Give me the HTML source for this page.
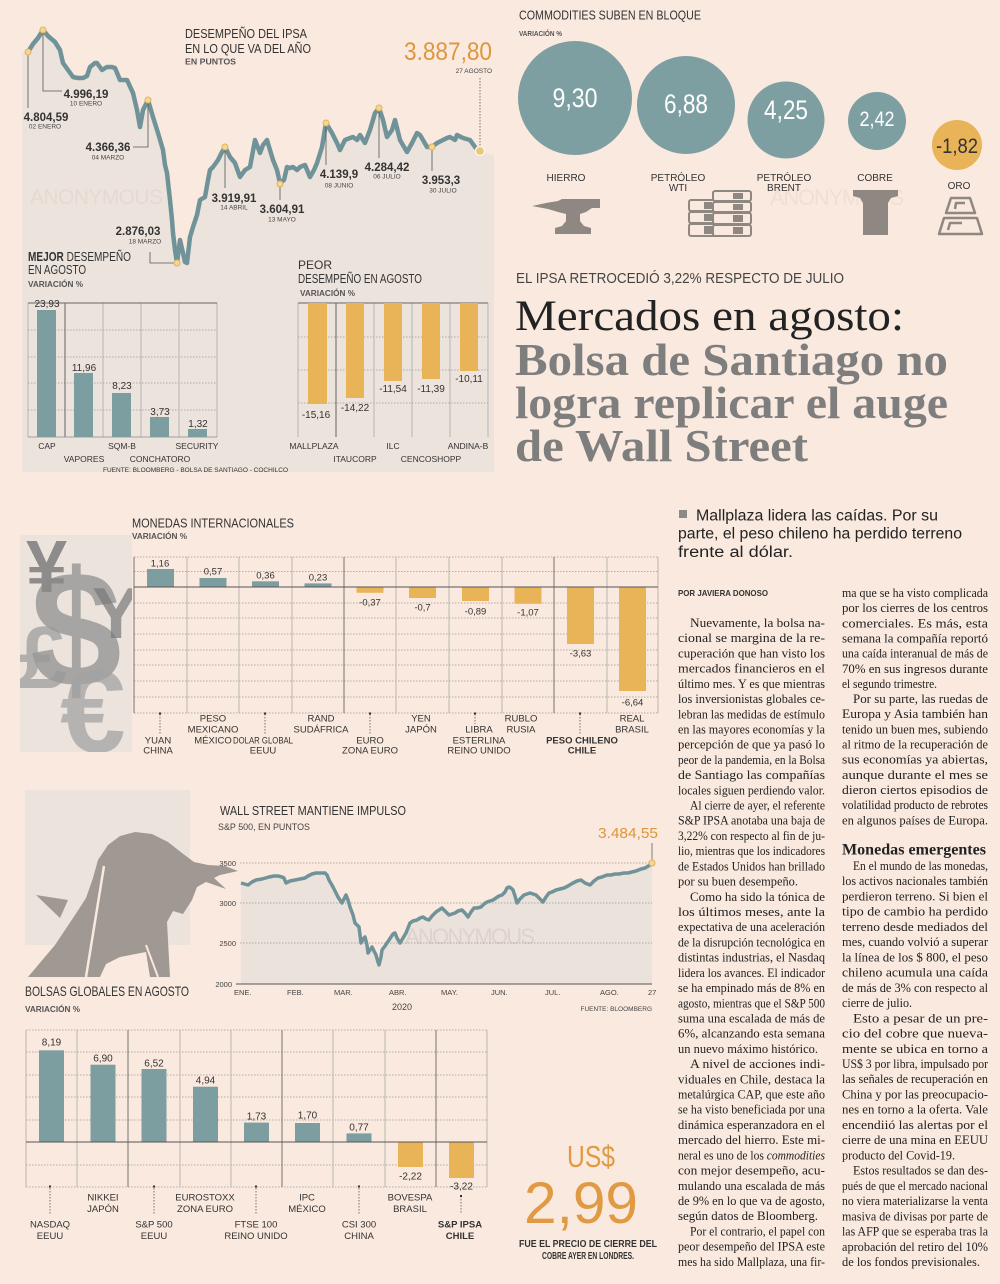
<!DOCTYPE html>
<html><head><meta charset="utf-8">
<style>
html,body{margin:0;padding:0;background:#fae9de;}
svg{display:block;}
.s{font-family:"Liberation Sans",sans-serif;}
.b{font-family:"Liberation Sans",sans-serif;font-weight:bold;}
.r{font-family:"Liberation Serif",serif;}
.t{font-family:"Liberation Serif",serif;font-size:12.5px;fill:#222;}
</style></head>
<body>
<svg width="1000" height="1284" viewBox="0 0 1000 1284" xmlns="http://www.w3.org/2000/svg">
<rect x="0" y="0" width="1000" height="1284" fill="#fae9de"/>

<!-- ============ IPSA CHART ============ -->
<polygon fill="#ece3dc" points="22,52 28,52 33,44 38,38 43,30 48,36 55,42 60,50 63,63 68,70 73,77 78,78 83,78 87,76 90,67 95,63 97,63 102,70 107,67 112,67 115,68 120,80 127,80 133,93 137,110 140,127 143,110 148,100 153,117 158,133 163,150 165,165 167,173 170,200 172,220 173,233 175,250 177,263 180,240 183,253 185,262 187,263 190,237 193,227 197,215 200,200 205,197 208,180 210,170 213,167 218,160 222,152 225,147 230,157 235,163 240,177 245,170 250,167 255,140 260,153 263,145 267,140 270,150 273,160 277,170 280,183 284,180 287,167 290,168 293,167 297,170 300,167 305,165 310,177 314,170 317,163 322,147 326,123 329,128 332,133 337,143 340,150 345,140 350,138 353,137 357,140 360,135 365,143 370,130 375,113 379,108 383,120 387,137 392,130 395,120 400,140 407,152 412,143 417,133 420,135 423,140 427,147 432,147 437,143 443,140 447,138 450,137 455,140 457,135 463,138 470,140 475,147 479,152 494,155 494,472 22,472"/>
<text x="30" y="204" class="s" font-size="21" fill="#e4dad3" textLength="133">ANONYMOUS</text>
<polyline fill="none" stroke="#6f9399" stroke-width="4.5" stroke-linejoin="round" stroke-linecap="round" points="28,52 33,44 38,38 43,30 48,36 55,42 60,50 63,63 68,70 73,77 78,78 83,78 87,76 90,67 95,63 97,63 102,70 107,67 112,67 115,68 120,80 127,80 133,93 137,110 140,127 143,110 148,100 153,117 158,133 163,150 165,165 167,173 170,200 172,220 173,233 175,250 177,263 180,240 183,253 185,262 187,263 190,237 193,227 197,215 200,200 205,197 208,180 210,170 213,167 218,160 222,152 225,147 230,157 235,163 240,177 245,170 250,167 255,140 260,153 263,145 267,140 270,150 273,160 277,170 280,183 284,180 287,167 290,168 293,167 297,170 300,167 305,165 310,177 314,170 317,163 322,147 326,123 329,128 332,133 337,143 340,150 345,140 350,138 353,137 357,140 360,135 365,143 370,130 375,113 379,108 383,120 387,137 392,130 395,120 400,140 407,152 412,143 417,133 420,135 423,140 427,147 432,147 437,143 443,140 447,138 450,137 455,140 457,135 463,138 470,140 475,147 479,152"/>
<g stroke="#555" stroke-width="0.8" fill="none">
<polyline points="28,55 28,108"/>
<polyline points="43,33 43,91 62,91"/>
<polyline points="148,103 148,147 133,147"/>
<polyline points="175,263 150,263 150,252"/>
<polyline points="225,150 225,188"/>
<polyline points="280,187 280,200"/>
<polyline points="326,126 326,165"/>
<polyline points="379,111 379,158"/>
<polyline points="432,150 432,171"/>
<polyline points="480,78 480,146" stroke-dasharray="1.5,1.5"/>
</g>
<g fill="#f2d795" stroke="#e2b25a" stroke-width="1">
<circle cx="28" cy="52" r="3"/><circle cx="43" cy="30" r="3"/><circle cx="148" cy="100" r="3"/>
<circle cx="177" cy="263" r="3"/><circle cx="225" cy="147" r="3"/><circle cx="280" cy="184" r="3"/>
<circle cx="326" cy="123" r="3"/><circle cx="379" cy="108" r="3"/><circle cx="432" cy="147" r="3"/>
</g>
<circle cx="480" cy="151" r="4.5" fill="#e8c77a" stroke="#fff3e0" stroke-width="1.5"/>
<g class="b" font-size="11.5" fill="#333" text-anchor="middle">
<text x="46" y="121">4.804,59</text>
<text x="86" y="98">4.996,19</text>
<text x="108" y="151">4.366,36</text>
<text x="138" y="235">2.876,03</text>
<text x="234" y="202">3.919,91</text>
<text x="282" y="213">3.604,91</text>
<text x="339" y="178">4.139,9</text>
<text x="387" y="171">4.284,42</text>
<text x="441" y="184">3.953,3</text>
</g>
<g class="s" font-size="6.5" fill="#444" text-anchor="middle">
<text x="45" y="128.5">02 ENERO</text>
<text x="86" y="105.5">10 ENERO</text>
<text x="108" y="159.5">04 MARZO</text>
<text x="145" y="243.5">18 MARZO</text>
<text x="234" y="209.5">14 ABRIL</text>
<text x="282" y="221.5">13 MAYO</text>
<text x="339" y="187.5">08 JUNIO</text>
<text x="387" y="178.5">06 JULIO</text>
<text x="443" y="192.5">30 JULIO</text>
</g>
<text x="185" y="38" class="s" font-size="13" fill="#333" textLength="122" lengthAdjust="spacingAndGlyphs">DESEMPEÑO DEL IPSA</text>
<text x="185" y="53" class="s" font-size="13" fill="#333" textLength="126" lengthAdjust="spacingAndGlyphs">EN LO QUE VA DEL AÑO</text>
<text x="185" y="64.5" class="b" font-size="8.5" fill="#555" textLength="51" lengthAdjust="spacingAndGlyphs">EN PUNTOS</text>
<text x="404" y="60" class="s" font-size="25" fill="#e0953a" textLength="88" lengthAdjust="spacingAndGlyphs">3.887,80</text>
<text x="492" y="73" class="s" font-size="6.5" fill="#444" text-anchor="end">27 AGOSTO</text>

<!-- MEJOR -->
<text x="28" y="261" font-size="12.5" fill="#333" class="s" textLength="103" lengthAdjust="spacingAndGlyphs"><tspan font-weight="bold">MEJOR</tspan> DESEMPEÑO</text>
<text x="28" y="274" font-size="12.5" fill="#333" class="s" textLength="58" lengthAdjust="spacingAndGlyphs">EN AGOSTO</text>
<text x="28" y="287" font-size="8" fill="#555" class="b" textLength="55" lengthAdjust="spacingAndGlyphs">VARIACIÓN %</text>
<g stroke="#999" stroke-width="0.7" stroke-dasharray="1.5,1.5">
<line x1="28" y1="330" x2="217" y2="330"/><line x1="28" y1="357" x2="217" y2="357"/>
<line x1="28" y1="383" x2="217" y2="383"/><line x1="28" y1="410" x2="217" y2="410"/>
</g>
<g stroke="#aaa" stroke-width="0.8">
<line x1="28" y1="303" x2="28" y2="437"/><line x1="103" y1="303" x2="103" y2="437"/>
<line x1="141" y1="303" x2="141" y2="437"/><line x1="179" y1="303" x2="179" y2="437"/>
<line x1="217" y1="303" x2="217" y2="437"/>
</g>
<line x1="65" y1="303" x2="65" y2="437" stroke="#555" stroke-width="0.9"/>
<line x1="28" y1="303" x2="217" y2="303" stroke="#666" stroke-width="0.9"/>
<line x1="28" y1="437" x2="217" y2="437" stroke="#888" stroke-width="0.8"/>
<g fill="#7c9ea1">
<rect x="37" y="310" width="19" height="127"/><rect x="74" y="373" width="19" height="64"/>
<rect x="112" y="393" width="19" height="44"/><rect x="150" y="417" width="19" height="20"/>
<rect x="188" y="429" width="19" height="8"/>
</g>
<g class="s" font-size="10" fill="#333" text-anchor="middle">
<text x="47" y="307">23,93</text><text x="84" y="371">11,96</text><text x="122" y="389">8,23</text>
<text x="160" y="415">3,73</text><text x="198" y="427">1,32</text>
</g>
<g class="s" font-size="8.5" fill="#333" text-anchor="middle">
<text x="47" y="449">CAP</text><text x="84" y="462">VAPORES</text><text x="122" y="449">SQM-B</text>
<text x="160" y="462">CONCHATORO</text><text x="197" y="449">SECURITY</text>
</g>
<text x="103" y="472" class="s" font-size="6.5" fill="#333" textLength="185" lengthAdjust="spacingAndGlyphs">FUENTE: BLOOMBERG - BOLSA DE SANTIAGO - COCHILCO</text>

<!-- PEOR -->
<text x="298" y="269" font-size="12" fill="#333" class="s">PEOR</text>
<text x="298" y="283" font-size="12.5" fill="#333" class="s" textLength="124" lengthAdjust="spacingAndGlyphs">DESEMPEÑO  EN AGOSTO</text>
<text x="300" y="296" font-size="8" fill="#555" class="b" textLength="55" lengthAdjust="spacingAndGlyphs">VARIACIÓN %</text>
<g stroke="#999" stroke-width="0.7" stroke-dasharray="1.5,1.5">
<line x1="298" y1="337" x2="488" y2="337"/><line x1="298" y1="370" x2="488" y2="370"/>
<line x1="298" y1="403" x2="488" y2="403"/>
</g>
<g stroke="#aaa" stroke-width="0.8">
<line x1="298" y1="303" x2="298" y2="437"/><line x1="374" y1="303" x2="374" y2="437"/>
<line x1="412" y1="303" x2="412" y2="437"/><line x1="450" y1="303" x2="450" y2="437"/>
<line x1="488" y1="303" x2="488" y2="437"/>
</g>
<line x1="336" y1="303" x2="336" y2="437" stroke="#555" stroke-width="0.9"/>
<line x1="298" y1="303" x2="488" y2="303" stroke="#666" stroke-width="1"/>
<g fill="#e8b457">
<rect x="308" y="303" width="19" height="101"/><rect x="346" y="303" width="18" height="95"/>
<rect x="384" y="303" width="18" height="78"/><rect x="422" y="303" width="18" height="76"/>
<rect x="460" y="303" width="18" height="68"/>
</g>
<g class="s" font-size="10" fill="#333" text-anchor="middle">
<text x="316" y="418">-15,16</text><text x="355" y="411">-14,22</text><text x="393" y="392">-11,54</text>
<text x="431" y="392">-11,39</text><text x="469" y="382">-10,11</text>
</g>
<g class="s" font-size="8.5" fill="#333" text-anchor="middle">
<text x="314" y="449">MALLPLAZA</text><text x="355" y="462">ITAUCORP</text><text x="393" y="449">ILC</text>
<text x="431" y="462">CENCOSHOPP</text><text x="468" y="449">ANDINA-B</text>
</g>

<!-- ============ COMMODITIES ============ -->
<text x="519" y="19.5" class="s" font-size="13" fill="#333" textLength="182" lengthAdjust="spacingAndGlyphs">COMMODITIES SUBEN EN BLOQUE</text>
<text x="519" y="36" class="b" font-size="7.5" fill="#555" textLength="43" lengthAdjust="spacingAndGlyphs">VARIACIÓN %</text>
<text x="770" y="205" class="s" font-size="22" fill="#efdfd5" textLength="134">ANONYMOUS</text>
<g fill="#7e9fa1">
<circle cx="575" cy="98" r="57"/><circle cx="686" cy="105" r="49"/>
<circle cx="786" cy="120" r="38.5"/><circle cx="877" cy="121" r="29"/>
</g>
<circle cx="957" cy="145" r="25" fill="#e8b457"/>
<g class="s" fill="#fff" text-anchor="middle">
<text x="575" y="107" font-size="27" textLength="45" lengthAdjust="spacingAndGlyphs">9,30</text>
<text x="686" y="113" font-size="27" textLength="44" lengthAdjust="spacingAndGlyphs">6,88</text>
<text x="786" y="119" font-size="27" textLength="44" lengthAdjust="spacingAndGlyphs">4,25</text>
<text x="877" y="126" font-size="21" textLength="35" lengthAdjust="spacingAndGlyphs">2,42</text>
</g>
<text x="957" y="153" class="s" fill="#333" font-size="21" text-anchor="middle" textLength="42" lengthAdjust="spacingAndGlyphs">-1,82</text>
<g class="s" font-size="10" fill="#333" text-anchor="middle">
<text x="566" y="181">HIERRO</text>
<text x="678" y="181">PETRÓLEO</text><text x="678" y="191">WTI</text>
<text x="784" y="181">PETRÓLEO</text><text x="784" y="191">BRENT</text>
<text x="875" y="181">COBRE</text>
<text x="959" y="189">ORO</text>
</g>
<!-- anvil -->
<polygon fill="#8f8882" points="532,206 546,203 558,201 562,199 600,199 600,208 592,208 586,212 580,214 580,221 584,226 591,228 591,234 555,234 555,228 562,226 566,221 566,214 558,212 548,209"/>
<!-- barrels -->
<g stroke="#8f8882" stroke-width="2" fill="#fae9de">
<rect x="689" y="200" width="30" height="11" rx="2"/><rect x="689" y="212" width="30" height="11" rx="2"/><rect x="689" y="224" width="30" height="12" rx="2"/>
<rect x="713" y="191" width="38" height="10" rx="2"/><rect x="713" y="202" width="38" height="10" rx="2"/><rect x="713" y="213" width="38" height="11" rx="2"/><rect x="713" y="225" width="38" height="11" rx="2"/>
</g>
<g fill="#8f8882">
<rect x="704" y="202" width="8" height="7"/><rect x="704" y="214" width="8" height="7"/><rect x="704" y="226" width="8" height="8"/>
<rect x="733" y="193" width="10" height="6"/><rect x="733" y="204" width="10" height="6"/><rect x="733" y="215" width="10" height="7"/><rect x="733" y="227" width="10" height="7"/>
</g>
<!-- copper -->
<polygon fill="#8f8882" points="853,190 898,190 898,196 891,198 888,203 888,235 863,235 863,203 860,198 853,196"/>
<!-- gold -->
<g fill="none" stroke="#8f8882" stroke-width="2.5" stroke-linejoin="round">
<polygon points="951,198 970,198 975,213 946,213"/>
<polygon points="944,218 977,218 982,234 939,234"/>
<polyline points="955,209 956,203 965,203"/>
<polyline points="948,230 950,223 962,223"/>
</g>

<!-- ============ HEADLINE ============ -->
<text x="516" y="283" class="s" font-size="15" fill="#444" textLength="328" lengthAdjust="spacingAndGlyphs">EL IPSA RETROCEDIÓ 3,22% RESPECTO DE JULIO</text>
<text x="515" y="330" class="r" font-size="43" fill="#222" textLength="389" lengthAdjust="spacingAndGlyphs">Mercados en agosto:</text>
<g class="r" font-weight="bold" font-size="45" fill="#7e7e7e">
<text x="515" y="375" textLength="433" lengthAdjust="spacingAndGlyphs">Bolsa de Santiago no</text>
<text x="515" y="418" textLength="433" lengthAdjust="spacingAndGlyphs">logra replicar el auge</text>
<text x="515" y="461" textLength="293" lengthAdjust="spacingAndGlyphs">de Wall Street</text>
</g>

<!-- ============ MONEDAS ============ -->
<defs><clipPath id="cp"><rect x="20" y="535" width="112" height="217"/></clipPath></defs>
<rect x="20" y="535" width="112" height="217" fill="#ece3dc"/>
<g clip-path="url(#cp)" class="b">
<text x="26" y="592" font-size="74" fill="#6e6e70" fill-opacity="0.75">¥</text>
<text x="30" y="686" font-size="165" fill="#8a8a8a" fill-opacity="0.7">$</text>
<text x="92" y="638" font-size="72" fill="#777" fill-opacity="0.7">Y</text>
<text x="18" y="688" font-size="88" fill="#999" fill-opacity="0.7">£</text>
<text x="60" y="752" font-size="118" fill="#a3a3a3" fill-opacity="0.75">€</text>
</g>
<text x="132" y="527.5" class="s" font-size="13" fill="#333" textLength="162" lengthAdjust="spacingAndGlyphs">MONEDAS INTERNACIONALES</text>
<text x="132" y="539" class="b" font-size="8" fill="#555" textLength="55" lengthAdjust="spacingAndGlyphs">VARIACIÓN %</text>
<g stroke="#999" stroke-width="0.7" stroke-dasharray="1.5,1.5">
<line x1="134" y1="557" x2="658" y2="557"/><line x1="134" y1="571.5" x2="658" y2="571.5"/>
<line x1="134" y1="603" x2="658" y2="603"/><line x1="134" y1="618" x2="658" y2="618"/>
<line x1="134" y1="634" x2="658" y2="634"/><line x1="134" y1="650" x2="658" y2="650"/>
<line x1="134" y1="665" x2="658" y2="665"/><line x1="134" y1="681" x2="658" y2="681"/>
<line x1="134" y1="697" x2="658" y2="697"/><line x1="134" y1="713" x2="658" y2="713"/>
</g>
<g stroke="#aaa" stroke-width="0.8">
<line x1="187" y1="557" x2="187" y2="713"/><line x1="239" y1="557" x2="239" y2="713"/>
<line x1="292" y1="557" x2="292" y2="713"/><line x1="396" y1="557" x2="396" y2="713"/>
<line x1="449" y1="557" x2="449" y2="713"/><line x1="502" y1="557" x2="502" y2="713"/>
<line x1="607" y1="557" x2="607" y2="713"/><line x1="658" y1="557" x2="658" y2="713"/>
</g>
<g stroke="#666" stroke-width="0.9">
<line x1="134" y1="557" x2="134" y2="713"/><line x1="344" y1="557" x2="344" y2="713"/>
<line x1="554" y1="557" x2="554" y2="713"/>
</g>
<g fill="#7c9ea1">
<rect x="147" y="569" width="27" height="18"/><rect x="199.5" y="578" width="27" height="9"/>
<rect x="252" y="581.3" width="27" height="5.7"/><rect x="304.5" y="583.4" width="27" height="3.6"/>
</g>
<g fill="#e8b457">
<rect x="356.5" y="587" width="27" height="5.8"/><rect x="409" y="587" width="27" height="11"/>
<rect x="462" y="587" width="27" height="14"/><rect x="514.5" y="587" width="27" height="16.8"/>
<rect x="567" y="587" width="27" height="57"/><rect x="619" y="587" width="27" height="104"/>
</g>
<line x1="134" y1="587" x2="658" y2="587" stroke="#555" stroke-width="1.1"/>
<g class="s" font-size="9.5" fill="#333" text-anchor="middle">
<text x="160" y="566.5">1,16</text><text x="213" y="574.5">0,57</text><text x="265.5" y="578.5">0,36</text><text x="318" y="580.5">0,23</text>
<text x="370" y="605.5">-0,37</text><text x="422.5" y="610.5">-0,7</text><text x="475.5" y="614.5">-0,89</text><text x="528" y="615.5">-1,07</text>
<text x="580.5" y="656.5">-3,63</text><text x="632.5" y="705.5">-6,64</text>
</g>
<g stroke="#555" stroke-width="0.8" stroke-dasharray="1.5,1.5">
<line x1="160" y1="714" x2="160" y2="735"/><line x1="265" y1="714" x2="265" y2="735"/>
<line x1="370" y1="714" x2="370" y2="735"/><line x1="475" y1="714" x2="475" y2="724"/>
<line x1="580" y1="714" x2="580" y2="735"/>
</g>
<g fill="#333"><rect x="159" y="712.5" width="2" height="2"/><rect x="264" y="712.5" width="2" height="2"/><rect x="369" y="712.5" width="2" height="2"/><rect x="474" y="712.5" width="2" height="2"/><rect x="579" y="712.5" width="2" height="2"/></g>
<g class="s" font-size="9.5" fill="#333" text-anchor="middle">
<text x="158" y="743.5">YUAN</text><text x="158" y="753.5">CHINA</text>
<text x="213" y="721.5">PESO</text><text x="213" y="732.5">MEXICANO</text><text x="213" y="743.5">MÉXICO</text>
<text x="263" y="743.5" textLength="60" lengthAdjust="spacingAndGlyphs">DOLAR GLOBAL</text><text x="263" y="753.5">EEUU</text>
<text x="321" y="721.5">RAND</text><text x="321" y="732.5">SUDÁFRICA</text>
<text x="370" y="743.5">EURO</text><text x="370" y="753.5">ZONA EURO</text>
<text x="421" y="721.5">YEN</text><text x="421" y="732.5">JAPÓN</text>
<text x="479" y="732.5">LIBRA</text><text x="479" y="743.5">ESTERLINA</text><text x="479" y="753.5">REINO UNIDO</text>
<text x="521" y="721.5">RUBLO</text><text x="521" y="732.5">RUSIA</text>
<text x="582" y="743.5" font-weight="bold">PESO CHILENO</text><text x="582" y="753.5" font-weight="bold">CHILE</text>
<text x="632" y="721.5">REAL</text><text x="632" y="732.5">BRASIL</text>
</g>

<!-- ============ WALL STREET ============ -->
<rect x="25" y="790" width="165" height="155" fill="#ece3dc"/>
<g fill="#9f9893">
<path d="M28,977 L55,945 L75,915 L86,898 L93,878 L98,860 L108,845 L120,836 L135,832 L152,834 L168,842 L182,853 L194,862 L208,865 L225,866 L238,871 L220,875 L214,878 L226,889 L206,882 L197,887 L192,900 L183,914 L173,911 L167,922 L170,977 L150,977 L146,952 L120,957 L106,964 L100,977 Z"/>
<path d="M36,895 L68,900 L60,918 Z"/>
</g>
<line x1="104" y1="866" x2="86" y2="977" stroke="#fae9de" stroke-width="2.5"/>
<line x1="146" y1="945" x2="158" y2="977" stroke="#fae9de" stroke-width="2"/>
<text x="220" y="815" class="s" font-size="13" fill="#333" textLength="186" lengthAdjust="spacingAndGlyphs">WALL STREET MANTIENE IMPULSO</text>
<text x="218" y="830" class="s" font-size="9" fill="#444" textLength="92" lengthAdjust="spacingAndGlyphs">S&amp;P 500, EN PUNTOS</text>
<text x="658" y="838" class="s" font-size="15" fill="#e0953a" text-anchor="end" textLength="60" lengthAdjust="spacingAndGlyphs">3.484,55</text>
<line x1="652" y1="843" x2="652" y2="860" stroke="#666" stroke-width="0.8"/>
<polygon fill="#ebe2dc" points="241,883 248,885 252,882 256,880 262,879 269,877 274,876 278,876 282,877 284,878 286,883 290,881 295,880 300,879 305,878 308,876 312,874 316,873 320,873 325,873 327,875 329,880 333,887 336,893 338,897 342,903 344,899 346,895 348,900 350,907 353,915 355,923 357,925 359,927 360,935 361,943 363,939 365,937 367,945 368,953 370,950 372,947 374,951 376,955 378,962 379,965 381,957 382,950 385,946 387,943 389,940 391,937 393,934 395,933 397,938 400,943 403,938 406,933 408,928 410,923 413,921 417,920 420,918 423,917 426,919 429,920 432,916 436,912 439,910 442,908 445,911 449,915 452,914 455,913 458,911 462,910 465,913 468,917 471,912 474,908 477,908 481,907 484,904 487,902 490,901 493,900 496,898 499,896 502,895 505,892 507,888 509,887 511,888 513,890 515,896 517,903 520,899 524,895 527,894 530,893 533,894 536,895 539,898 543,902 546,897 549,893 552,892 556,890 560,889 564,888 568,886 573,883 577,881 581,880 585,883 590,885 594,881 598,878 602,877 607,875 611,875 615,874 619,874 624,873 628,873 632,872 636,871 641,869 645,868 650,865 652,863 652,984 241,984"/>
<text x="405" y="944" class="s" font-size="22" fill="#ddd3cc" textLength="130">ANONYMOUS</text>
<g stroke="#999" stroke-width="0.7" stroke-dasharray="1.5,1.5">
<line x1="240" y1="863" x2="652" y2="863"/><line x1="240" y1="903" x2="652" y2="903"/><line x1="240" y1="943" x2="652" y2="943"/>
</g>
<line x1="236" y1="984" x2="652" y2="984" stroke="#555" stroke-width="1"/>
<polyline fill="none" stroke="#6f9399" stroke-width="3.5" stroke-linejoin="round" points="241,883 248,885 252,882 256,880 262,879 269,877 274,876 278,876 282,877 284,878 286,883 290,881 295,880 300,879 305,878 308,876 312,874 316,873 320,873 325,873 327,875 329,880 333,887 336,893 338,897 342,903 344,899 346,895 348,900 350,907 353,915 355,923 357,925 359,927 360,935 361,943 363,939 365,937 367,945 368,953 370,950 372,947 374,951 376,955 378,962 379,965 381,957 382,950 385,946 387,943 389,940 391,937 393,934 395,933 397,938 400,943 403,938 406,933 408,928 410,923 413,921 417,920 420,918 423,917 426,919 429,920 432,916 436,912 439,910 442,908 445,911 449,915 452,914 455,913 458,911 462,910 465,913 468,917 471,912 474,908 477,908 481,907 484,904 487,902 490,901 493,900 496,898 499,896 502,895 505,892 507,888 509,887 511,888 513,890 515,896 517,903 520,899 524,895 527,894 530,893 533,894 536,895 539,898 543,902 546,897 549,893 552,892 556,890 560,889 564,888 568,886 573,883 577,881 581,880 585,883 590,885 594,881 598,878 602,877 607,875 611,875 615,874 619,874 624,873 628,873 632,872 636,871 641,869 645,868 650,865 652,863"/>
<circle cx="652" cy="863" r="3" fill="#f2d795" stroke="#e2b25a" stroke-width="1"/>
<g class="s" font-size="7.5" fill="#444">
<text x="236" y="866" text-anchor="end">3500</text><text x="236" y="906" text-anchor="end">3000</text>
<text x="236" y="946" text-anchor="end">2500</text><text x="232" y="987" text-anchor="end">2000</text>
<text x="234" y="995">ENE.</text><text x="287" y="995">FEB.</text><text x="334" y="995">MAR.</text>
<text x="389" y="995">ABR.</text><text x="441" y="995">MAY.</text><text x="491" y="995">JUN.</text>
<text x="545" y="995">JUL.</text><text x="600" y="995">AGO.</text><text x="648" y="995">27</text>
</g>
<text x="402" y="1010" class="s" font-size="9" fill="#444" text-anchor="middle">2020</text>
<text x="652" y="1011" class="s" font-size="6.5" fill="#444" text-anchor="end">FUENTE: BLOOMBERG</text>

<!-- ============ BOLSAS GLOBALES ============ -->
<text x="25" y="996" class="s" font-size="14" fill="#333" textLength="164" lengthAdjust="spacingAndGlyphs">BOLSAS GLOBALES EN AGOSTO</text>
<text x="25" y="1012" class="b" font-size="8" fill="#555" textLength="55" lengthAdjust="spacingAndGlyphs">VARIACIÓN %</text>
<g stroke="#999" stroke-width="0.7" stroke-dasharray="1.5,1.5">
<line x1="26" y1="1030" x2="487" y2="1030"/><line x1="26" y1="1052" x2="487" y2="1052"/>
<line x1="26" y1="1075" x2="487" y2="1075"/><line x1="26" y1="1097" x2="487" y2="1097"/>
<line x1="26" y1="1120" x2="487" y2="1120"/><line x1="26" y1="1165" x2="487" y2="1165"/>
<line x1="26" y1="1187" x2="487" y2="1187"/>
</g>
<g stroke="#aaa" stroke-width="0.8">
<line x1="26" y1="1030" x2="26" y2="1187"/><line x1="77" y1="1030" x2="77" y2="1187"/>
<line x1="180" y1="1030" x2="180" y2="1187"/><line x1="231" y1="1030" x2="231" y2="1187"/>
<line x1="333" y1="1030" x2="333" y2="1187"/><line x1="385" y1="1030" x2="385" y2="1187"/>
<line x1="487" y1="1030" x2="487" y2="1187"/>
</g>
<g stroke="#666" stroke-width="0.9">
<line x1="128" y1="1030" x2="128" y2="1187"/><line x1="282" y1="1030" x2="282" y2="1187"/>
<line x1="436" y1="1030" x2="436" y2="1187"/>
</g>
<g fill="#7c9ea1">
<rect x="39" y="1050.3" width="25" height="91.7"/><rect x="90.5" y="1064.7" width="25" height="77.3"/>
<rect x="141.5" y="1069" width="25" height="73"/><rect x="193" y="1086.7" width="25" height="55.3"/>
<rect x="244" y="1122.6" width="25" height="19.4"/><rect x="295" y="1123" width="25" height="19"/>
<rect x="346.5" y="1133.4" width="25" height="8.6"/>
</g>
<g fill="#e8b457">
<rect x="398" y="1142" width="25" height="25"/><rect x="449" y="1142" width="25" height="36"/>
</g>
<line x1="26" y1="1142" x2="487" y2="1142" stroke="#555" stroke-width="1.1"/>
<g class="s" font-size="10" fill="#333" text-anchor="middle">
<text x="51.5" y="1045.5">8,19</text><text x="103" y="1061.5">6,90</text><text x="154" y="1066.5">6,52</text>
<text x="205.5" y="1083.5">4,94</text><text x="256.5" y="1119.5">1,73</text><text x="307.5" y="1118.5">1,70</text>
<text x="359" y="1130.5">0,77</text><text x="410.5" y="1179.5">-2,22</text><text x="461.5" y="1189.5">-3,22</text>
</g>
<g stroke="#555" stroke-width="0.8" stroke-dasharray="1.5,1.5">
<line x1="50" y1="1188" x2="50" y2="1214"/><line x1="154" y1="1188" x2="154" y2="1214"/>
<line x1="256" y1="1188" x2="256" y2="1214"/><line x1="359" y1="1188" x2="359" y2="1214"/>
<line x1="461" y1="1196" x2="461" y2="1214"/>
</g>
<g fill="#333"><rect x="49" y="1185.5" width="2" height="2"/><rect x="153" y="1185.5" width="2" height="2"/><rect x="255" y="1185.5" width="2" height="2"/><rect x="358" y="1185.5" width="2" height="2"/><rect x="460" y="1195" width="2" height="2"/></g>
<g class="s" font-size="9.5" fill="#333" text-anchor="middle">
<text x="50" y="1227.5">NASDAQ</text><text x="50" y="1239">EEUU</text>
<text x="103" y="1200.5">NIKKEI</text><text x="103" y="1212">JAPÓN</text>
<text x="154" y="1227.5">S&amp;P 500</text><text x="154" y="1239">EEUU</text>
<text x="205" y="1200.5">EUROSTOXX</text><text x="205" y="1212">ZONA EURO</text>
<text x="256" y="1227.5">FTSE 100</text><text x="256" y="1239">REINO UNIDO</text>
<text x="307" y="1200.5">IPC</text><text x="307" y="1212">MÉXICO</text>
<text x="359" y="1227.5">CSI 300</text><text x="359" y="1239">CHINA</text>
<text x="410" y="1200.5">BOVESPA</text><text x="410" y="1212">BRASIL</text>
<text x="460" y="1227.5" font-weight="bold">S&amp;P IPSA</text><text x="460" y="1239" font-weight="bold">CHILE</text>
</g>

<!-- ============ US$ 2,99 ============ -->
<text x="567" y="1167" class="s" font-size="31" fill="#e09a44" textLength="48" lengthAdjust="spacingAndGlyphs">US$</text>
<text x="524" y="1223" class="s" font-size="58" fill="#e09a44" textLength="114" lengthAdjust="spacingAndGlyphs">2,99</text>
<text x="588" y="1247" class="b" font-size="10" fill="#333" text-anchor="middle" textLength="138" lengthAdjust="spacingAndGlyphs">FUE EL PRECIO DE CIERRE DEL</text>
<text x="588" y="1259" class="b" font-size="10" fill="#333" text-anchor="middle" textLength="92" lengthAdjust="spacingAndGlyphs">COBRE AYER EN LONDRES.</text>

<!-- ============ ARTICLE ============ -->
<rect x="679" y="510" width="8" height="8" fill="#8a8a8a"/>
<g class="s" font-size="15.5" fill="#222">
<text x="696" y="520.5" textLength="242" lengthAdjust="spacingAndGlyphs">Mallplaza lidera las caídas. Por su</text>
<text x="678" y="538.5" textLength="284" lengthAdjust="spacingAndGlyphs">parte, el peso chileno ha perdido terreno</text>
<text x="678" y="557" textLength="115" lengthAdjust="spacingAndGlyphs">frente al dólar.</text>
</g>
<text x="678" y="596" class="b" font-size="8.5" fill="#333" textLength="90" lengthAdjust="spacingAndGlyphs">POR JAVIERA DONOSO</text>

<g class="t">
<text x="690" y="627" textLength="135" lengthAdjust="spacingAndGlyphs">Nuevamente, la bolsa na-</text>
<text x="678" y="642.2" textLength="147" lengthAdjust="spacingAndGlyphs">cional se margina de la re-</text>
<text x="678" y="657.4" textLength="147" lengthAdjust="spacingAndGlyphs">cuperación que han visto los</text>
<text x="678" y="672.6" textLength="147" lengthAdjust="spacingAndGlyphs">mercados financieros en el</text>
<text x="678" y="687.8" textLength="147" lengthAdjust="spacingAndGlyphs">último mes. Y es que mientras</text>
<text x="678" y="703.1" textLength="147" lengthAdjust="spacingAndGlyphs">los inversionistas globales ce-</text>
<text x="678" y="718.3" textLength="147" lengthAdjust="spacingAndGlyphs">lebran las medidas de estímulo</text>
<text x="678" y="733.5" textLength="147" lengthAdjust="spacingAndGlyphs">en las mayores economías y la</text>
<text x="678" y="748.7" textLength="147" lengthAdjust="spacingAndGlyphs">percepción de que ya pasó lo</text>
<text x="678" y="763.9" textLength="147" lengthAdjust="spacingAndGlyphs">peor de la pandemia, en la Bolsa</text>
<text x="678" y="779.1" textLength="147" lengthAdjust="spacingAndGlyphs">de Santiago las compañías</text>
<text x="678" y="794.3" textLength="147" lengthAdjust="spacingAndGlyphs">locales siguen perdiendo valor.</text>
<text x="690" y="809.5" textLength="135" lengthAdjust="spacingAndGlyphs">Al cierre de ayer, el referente</text>
<text x="678" y="824.7" textLength="147" lengthAdjust="spacingAndGlyphs">S&amp;P IPSA anotaba una baja de</text>
<text x="678" y="839.9" textLength="147" lengthAdjust="spacingAndGlyphs">3,22% con respecto al fin de ju-</text>
<text x="678" y="855.2" textLength="147" lengthAdjust="spacingAndGlyphs">lio, mientras que los indicadores</text>
<text x="678" y="870.4" textLength="147" lengthAdjust="spacingAndGlyphs">de Estados Unidos han brillado</text>
<text x="678" y="885.6" textLength="120" lengthAdjust="spacingAndGlyphs">por su buen desempeño.</text>
<text x="690" y="900.8" textLength="135" lengthAdjust="spacingAndGlyphs">Como ha sido la tónica de</text>
<text x="678" y="916" textLength="147" lengthAdjust="spacingAndGlyphs">los últimos meses, ante la</text>
<text x="678" y="931.2" textLength="147" lengthAdjust="spacingAndGlyphs">expectativa de una aceleración</text>
<text x="678" y="946.4" textLength="147" lengthAdjust="spacingAndGlyphs">de la disrupción tecnológica en</text>
<text x="678" y="961.6" textLength="147" lengthAdjust="spacingAndGlyphs">distintas industrias, el Nasdaq</text>
<text x="678" y="976.8" textLength="147" lengthAdjust="spacingAndGlyphs">lidera los avances. El indicador</text>
<text x="678" y="992" textLength="147" lengthAdjust="spacingAndGlyphs">se ha empinado más de 8% en</text>
<text x="678" y="1007.3" textLength="147" lengthAdjust="spacingAndGlyphs">agosto, mientras que el S&amp;P 500</text>
<text x="678" y="1022.5" textLength="147" lengthAdjust="spacingAndGlyphs">suma una escalada de más de</text>
<text x="678" y="1037.7" textLength="147" lengthAdjust="spacingAndGlyphs">6%, alcanzando esta semana</text>
<text x="678" y="1052.9" textLength="140" lengthAdjust="spacingAndGlyphs">un nuevo máximo histórico.</text>
<text x="690" y="1068.1" textLength="135" lengthAdjust="spacingAndGlyphs">A nivel de acciones indi-</text>
<text x="678" y="1083.3" textLength="147" lengthAdjust="spacingAndGlyphs">viduales en Chile, destaca la</text>
<text x="678" y="1098.5" textLength="147" lengthAdjust="spacingAndGlyphs">metalúrgica CAP, que este año</text>
<text x="678" y="1113.7" textLength="147" lengthAdjust="spacingAndGlyphs">se ha visto beneficiada por una</text>
<text x="678" y="1128.9" textLength="147" lengthAdjust="spacingAndGlyphs">dinámica esperanzadora en el</text>
<text x="678" y="1144.1" textLength="147" lengthAdjust="spacingAndGlyphs">mercado del hierro. Este mi-</text>
<text x="678" y="1159.4" textLength="147" lengthAdjust="spacingAndGlyphs">neral es uno de los <tspan font-style="italic">commodities</tspan></text>
<text x="678" y="1174.6" textLength="147" lengthAdjust="spacingAndGlyphs">con mejor desempeño, acu-</text>
<text x="678" y="1189.8" textLength="147" lengthAdjust="spacingAndGlyphs">mulando una escalada de más</text>
<text x="678" y="1205" textLength="147" lengthAdjust="spacingAndGlyphs">de 9% en lo que va de agosto,</text>
<text x="678" y="1220.2" textLength="140" lengthAdjust="spacingAndGlyphs">según datos de Bloomberg.</text>
<text x="690" y="1235.4" textLength="135" lengthAdjust="spacingAndGlyphs">Por el contrario, el papel con</text>
<text x="678" y="1250.6" textLength="147" lengthAdjust="spacingAndGlyphs">peor desempeño del IPSA este</text>
<text x="678" y="1265.8" textLength="147" lengthAdjust="spacingAndGlyphs">mes ha sido Mallplaza, una fir-</text>

<text x="842" y="597" textLength="146" lengthAdjust="spacingAndGlyphs">ma que se ha visto complicada</text>
<text x="842" y="612.2" textLength="146" lengthAdjust="spacingAndGlyphs">por los cierres de los centros</text>
<text x="842" y="627.3" textLength="146" lengthAdjust="spacingAndGlyphs">comerciales. Es más, esta</text>
<text x="842" y="642.5" textLength="146" lengthAdjust="spacingAndGlyphs">semana la compañía reportó</text>
<text x="842" y="657.6" textLength="146" lengthAdjust="spacingAndGlyphs">una caída interanual de más de</text>
<text x="842" y="672.8" textLength="146" lengthAdjust="spacingAndGlyphs">70% en sus ingresos durante</text>
<text x="842" y="687.9" textLength="95" lengthAdjust="spacingAndGlyphs">el segundo trimestre.</text>
<text x="853" y="703.1" textLength="135" lengthAdjust="spacingAndGlyphs">Por su parte, las ruedas de</text>
<text x="842" y="718.2" textLength="146" lengthAdjust="spacingAndGlyphs">Europa y Asia también han</text>
<text x="842" y="733.4" textLength="146" lengthAdjust="spacingAndGlyphs">tenido un buen mes, subiendo</text>
<text x="842" y="748.5" textLength="146" lengthAdjust="spacingAndGlyphs">al ritmo de la recuperación de</text>
<text x="842" y="763.7" textLength="146" lengthAdjust="spacingAndGlyphs">sus economías ya abiertas,</text>
<text x="842" y="778.8" textLength="146" lengthAdjust="spacingAndGlyphs">aunque durante el mes se</text>
<text x="842" y="794" textLength="146" lengthAdjust="spacingAndGlyphs">dieron ciertos episodios de</text>
<text x="842" y="809.1" textLength="146" lengthAdjust="spacingAndGlyphs">volatilidad producto de rebrotes</text>
<text x="842" y="824.3" textLength="146" lengthAdjust="spacingAndGlyphs">en algunos países de Europa.</text>
<text x="853" y="870" textLength="135" lengthAdjust="spacingAndGlyphs">En el mundo de las monedas,</text>
<text x="842" y="885.2" textLength="146" lengthAdjust="spacingAndGlyphs">los activos nacionales también</text>
<text x="842" y="900.5" textLength="146" lengthAdjust="spacingAndGlyphs">perdieron terreno. Si bien el</text>
<text x="842" y="915.7" textLength="146" lengthAdjust="spacingAndGlyphs">tipo de cambio ha perdido</text>
<text x="842" y="930.9" textLength="146" lengthAdjust="spacingAndGlyphs">terreno desde mediados del</text>
<text x="842" y="946.2" textLength="146" lengthAdjust="spacingAndGlyphs">mes, cuando volvió a superar</text>
<text x="842" y="961.4" textLength="146" lengthAdjust="spacingAndGlyphs">la línea de los $ 800, el peso</text>
<text x="842" y="976.6" textLength="146" lengthAdjust="spacingAndGlyphs">chileno acumula una caída</text>
<text x="842" y="991.8" textLength="146" lengthAdjust="spacingAndGlyphs">de más de 3% con respecto al</text>
<text x="842" y="1007.1" textLength="70" lengthAdjust="spacingAndGlyphs">cierre de julio.</text>
<text x="853" y="1022.3" textLength="135" lengthAdjust="spacingAndGlyphs">Esto a pesar de un pre-</text>
<text x="842" y="1037.5" textLength="146" lengthAdjust="spacingAndGlyphs">cio del cobre que nueva-</text>
<text x="842" y="1052.8" textLength="146" lengthAdjust="spacingAndGlyphs">mente se ubica en torno a</text>
<text x="842" y="1068" textLength="146" lengthAdjust="spacingAndGlyphs">US$ 3 por libra, impulsado por</text>
<text x="842" y="1083.2" textLength="146" lengthAdjust="spacingAndGlyphs">las señales de recuperación en</text>
<text x="842" y="1098.5" textLength="146" lengthAdjust="spacingAndGlyphs">China y por las preocupacio-</text>
<text x="842" y="1113.7" textLength="146" lengthAdjust="spacingAndGlyphs">nes en torno a la oferta. Vale</text>
<text x="842" y="1128.9" textLength="146" lengthAdjust="spacingAndGlyphs">encendiió las alertas por el</text>
<text x="842" y="1144.1" textLength="146" lengthAdjust="spacingAndGlyphs">cierre de una mina en EEUU</text>
<text x="842" y="1159.4" textLength="113" lengthAdjust="spacingAndGlyphs">producto del Covid-19.</text>
<text x="853" y="1174.6" textLength="135" lengthAdjust="spacingAndGlyphs">Estos resultados se dan des-</text>
<text x="842" y="1189.8" textLength="146" lengthAdjust="spacingAndGlyphs">pués de que el mercado nacional</text>
<text x="842" y="1205.1" textLength="146" lengthAdjust="spacingAndGlyphs">no viera materializarse la venta</text>
<text x="842" y="1220.3" textLength="146" lengthAdjust="spacingAndGlyphs">masiva de divisas por parte de</text>
<text x="842" y="1235.5" textLength="146" lengthAdjust="spacingAndGlyphs">las AFP que se esperaba tras la</text>
<text x="842" y="1250.8" textLength="146" lengthAdjust="spacingAndGlyphs">aprobación del retiro del 10%</text>
<text x="842" y="1266" textLength="138" lengthAdjust="spacingAndGlyphs">de los fondos previsionales.</text>
</g>
<text x="842" y="854.5" class="r" font-weight="bold" font-size="16" fill="#222" textLength="144" lengthAdjust="spacingAndGlyphs">Monedas emergentes</text>
</svg>
</body></html>
